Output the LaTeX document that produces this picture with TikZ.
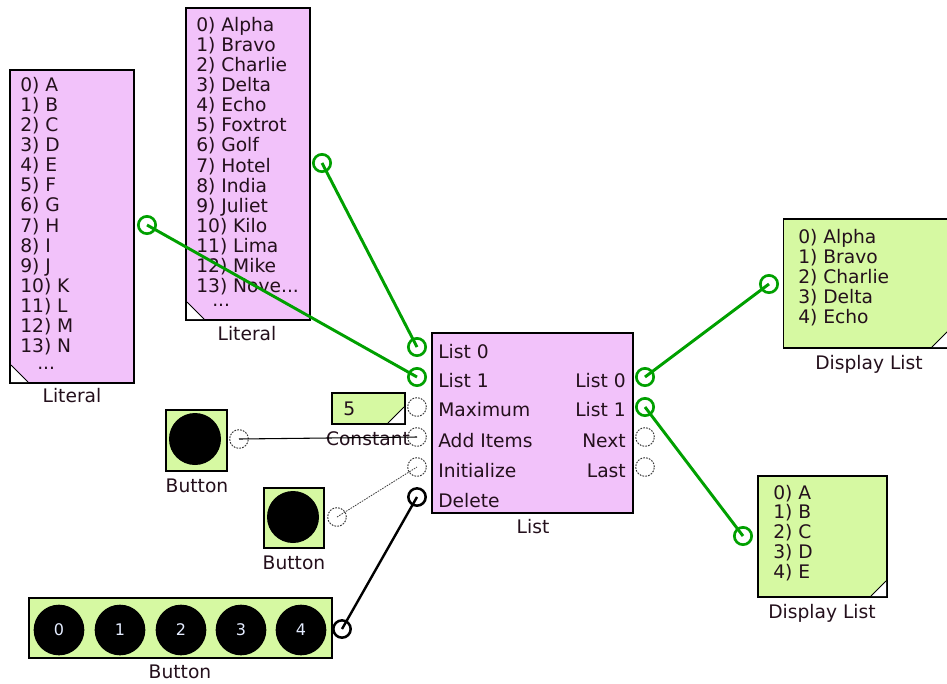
\documentclass[tikz,border=0pt]{standalone}
\usepackage{fontspec}
\setmainfont{DejaVu Sans}
\definecolor{pinkfill}{HTML}{F2C2FA}
\definecolor{limefill}{HTML}{D6F9A2}
\definecolor{portgreen}{HTML}{00A000}
\definecolor{txt}{HTML}{24101C}
\definecolor{numtxt}{HTML}{E4ECFF}
\newcommand{\mydots}{...}
\begin{document}
\begin{tikzpicture}[x=0.75pt,y=-0.75pt,
  font=\fontsize{14pt}{16pt}\selectfont,
  block/.style={draw=black, line width=1.1pt, rectangle, inner sep=0pt},
  txtl/.style={anchor=base west, inner sep=0pt, text=txt},
  txtr/.style={anchor=base east, inner sep=0pt, text=txt},
  lbl/.style={anchor=base, inner sep=0pt, text=txt},
  dotsl/.style={anchor=base west, inner sep=0pt, text=txt, text height=1.5pt},
  gport/.style={circle, draw=portgreen, line width=2pt, minimum size=13pt, inner sep=0pt},
  tport/.style={circle, draw=black!80, line width=0.7pt, dash pattern=on 1.3pt off 0.9pt, minimum size=14pt, inner sep=0pt},
  bport/.style={circle, draw=black, line width=1.9pt, minimum size=13pt, inner sep=0pt},
  gwire/.style={draw=portgreen, line width=2.2pt},
  bwire/.style={draw=black, line width=1.8pt},
  twire/.style={draw=black, line width=0.8pt},
  dwire/.style={draw=black!75, line width=0.6pt, dash pattern=on 1.2pt off 0.8pt},
  knob/.style={circle, fill=black, inner sep=0pt, minimum size=38pt}
]
\useasboundingbox[fill=white] (0,0) rectangle (947,683);

% ---------- Left Literal ----------
\node[block, fill=pinkfill, minimum width=93pt, minimum height=234.75pt] (lit1) at (72,226.5) {};
\fill[white] (11,365) -- (11,382) -- (28,382) -- cycle;
\draw[line width=0.6pt] (11,365) -- (28,382);
\foreach \t [count=\i from 0] in {0) A,1) B,2) C,3) D,4) E,5) F,6) G,7) H,8) I,9) J,10) K,11) L,12) M,13) N}
  \node[txtl] at (20,{91+20.15*\i}) {\t};
\node[dotsl] at (37,369) {\mydots};
\node[lbl] at (72,402) {Literal};

% ---------- Top Literal ----------
\node[block, fill=pinkfill, minimum width=93pt, minimum height=234pt] (lit2) at (248,164) {};
\fill[white] (187,302) -- (187,319) -- (204,319) -- cycle;
\draw[line width=0.6pt] (187,302) -- (204,319);
\foreach \t [count=\i from 0] in {0) Alpha,1) Bravo,2) Charlie,3) Delta,4) Echo,5) Foxtrot,6) Golf,7) Hotel,8) India,9) Juliet,10) Kilo,11) Lima,12) Mike,13) Nove\mydots}
  \node[txtl] at (196,{31+20.15*\i}) {\t};
\node[dotsl] at (212,306) {\mydots};
\node[lbl] at (247,340) {Literal};

% ---------- List block ----------
\node[block, fill=pinkfill, minimum width=150.75pt, minimum height=135pt] (list) at (532.5,423) {};
\node[txtl] at (438,358) {List 0};
\node[txtl] at (438,387) {List 1};
\node[txtl] at (438,416) {Maximum};
\node[txtl] at (438,447) {Add Items};
\node[txtl] at (438,477) {Initialize};
\node[txtl] at (438,507) {Delete};
\node[txtr] at (626,387) {List 0};
\node[txtr] at (626,416) {List 1};
\node[txtr] at (626,447) {Next};
\node[txtr] at (626,477) {Last};
\node[lbl] at (533,533) {List};

% ---------- Constant ----------
\node[block, fill=limefill, minimum width=54.75pt, minimum height=23.25pt] (const) at (368.5,408.5) {};
\fill[white] (388,423) -- (404,407) -- (404,423) -- cycle;
\draw[line width=0.6pt] (388,423) -- (404,407);
\node[txtl] at (343,415) {5};

% ---------- Buttons ----------
\node[block, fill=limefill, minimum width=45.75pt, minimum height=45.75pt] (btn1) at (196.5,440.5) {};
\node[knob, minimum size=39pt] (knob1) at (195,439) {};
\node[lbl] at (197,492) {Button};

\node[block, fill=limefill, minimum width=45pt, minimum height=45pt] (btn2) at (294,518) {};
\node[knob, minimum size=39pt] (knob2) at (293,517) {};
\node[lbl] at (294,569) {Button};

\node[block, fill=limefill, minimum width=227.25pt, minimum height=45pt] (bar) at (180.5,628) {};
\foreach \n/\x in {0/59,1/120,2/181,3/241,4/301}
  \node[knob, text=numtxt, font=\fontsize{12pt}{14pt}\selectfont] (k\n) at (\x,630) {\n};
\node[lbl] at (180,678) {Button};

% ---------- Display Lists ----------
\node[block, fill=limefill, minimum width=123pt, minimum height=96.75pt] (dl1) at (865.5,283.5) {};
\fill[white] (932,347) -- (948,331) -- (948,347) -- cycle;
\draw[line width=0.6pt] (932,347) -- (948,331);
\foreach \t [count=\i from 0] in {0) Alpha,1) Bravo,2) Charlie,3) Delta,4) Echo}
  \node[txtl] at (798,{243+20*\i}) {\t};
\node[lbl] at (869,369) {Display List};

\node[block, fill=limefill, minimum width=96.75pt, minimum height=90.75pt] (dl2) at (822.5,536.5) {};
\fill[white] (871,596) -- (886,581) -- (886,596) -- cycle;
\draw[line width=0.6pt] (871,596) -- (886,581);
\foreach \t [count=\i from 0] in {0) A,1) B,2) C,3) D,4) E}
  \node[txtl] at (773,{499+19.8*\i}) {\t};
\node[lbl] at (822,618) {Display List};

% ---------- Ports ----------
\node[gport] (p-lit1) at (147,225) {};
\node[gport] (p-lit2) at (322,163) {};
\node[gport] (in-l0) at (417,347) {};
\node[gport] (in-l1) at (417,377) {};
\node[tport] (in-max) at (417,407) {};
\node[tport] (in-add) at (417,437) {};
\node[tport] (in-init) at (417,467) {};
\node[bport] (in-del) at (417,497) {};
\node[gport] (out-l0) at (645,377) {};
\node[gport] (out-l1) at (645,407) {};
\node[tport] (out-next) at (645,437) {};
\node[tport] (out-last) at (645,467) {};
\node[gport] (p-dl1) at (769,284) {};
\node[gport] (p-dl2) at (743,536) {};
\node[tport] (p-btn1) at (239,439) {};
\node[tport] (p-btn2) at (337,517) {};
\node[bport] (p-bar) at (342,629) {};

% ---------- Connectors ----------
\draw[gwire] (p-lit1.center) -- (in-l1.center);
\draw[gwire] (p-lit2.center) -- (in-l0.center);
\draw[gwire] (out-l0.center) -- (p-dl1.center);
\draw[gwire] (out-l1.center) -- (p-dl2.center);
\draw[bwire] (p-bar.center) -- (in-del.center);
\draw[dwire] (p-btn2.center) -- (in-init.center);

% Constant label crossed by wire
\node[lbl] at (368,445) {Constant};
\draw[twire] (p-btn1.center) -- (in-add.center);
\end{tikzpicture}
\end{document}
